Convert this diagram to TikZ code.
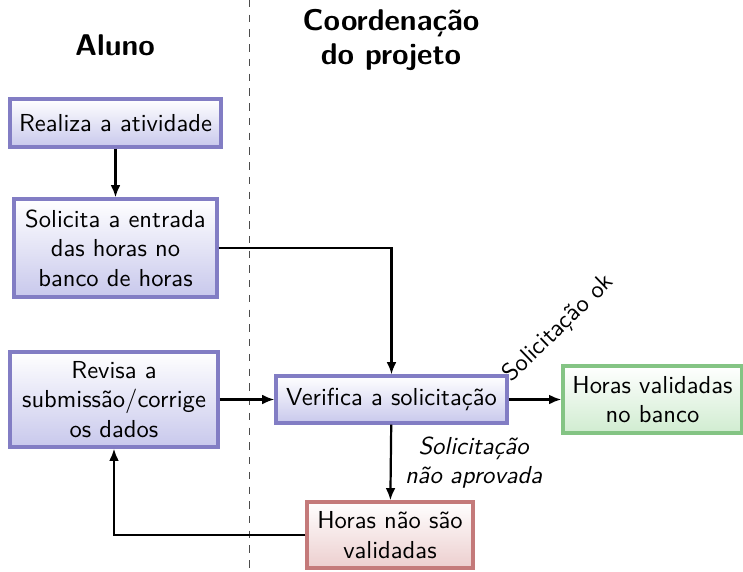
\documentclass[tikz,border=0pt]{standalone}
\usepackage{tikz}
\usetikzlibrary{arrows.meta}
\definecolor{bordaazul}{RGB}{130,125,196}
\definecolor{fundoazul}{RGB}{200,200,236}
\definecolor{bordaverde}{RGB}{132,196,132}
\definecolor{fundoverde}{RGB}{208,236,208}
\definecolor{bordavermelha}{RGB}{196,122,122}
\definecolor{fundovermelho}{RGB}{236,206,206}

\begin{document}
\begin{tikzpicture}[x=0.407pt,y=0.407pt,font=\sffamily]
\tikzstyle{caixa}=[draw=bordaazul, line width=1.3pt, top color=white, bottom color=fundoazul, align=center, inner sep=2pt]
\tikzstyle{caixaok}=[caixa, draw=bordaverde, bottom color=fundoverde]
\tikzstyle{caixanao}=[caixa, draw=bordavermelha, bottom color=fundovermelho]
\tikzstyle{seta}=[line width=0.9pt, -{Latex[length=5pt,width=4pt]}]
\tikzstyle{titulo}=[font=\sffamily\bfseries\fontsize{12.2}{14}\selectfont, align=center]
\useasboundingbox (0,0) rectangle (743,-571);
% colunas
\coordinate (topo) at (249,0);
\coordinate (base) at (249,-571);
\draw [dashed, gray!60!black] (topo) -- (base);
\node [titulo] (aluno) at (115,-45) {Aluno};
\node [titulo] (coord) at (391,-40) {Coordenação\\do projeto};
% caixas
\node [caixa, minimum width=85.9pt, minimum height=19.5pt] (realiza) at (115.5,-123) {Realiza a atividade};
\node [caixa, minimum width=82.6pt, minimum height=39.9pt] (solicita) at (115.5,-248) {Solicita a entrada\\das horas no\\banco de horas};
\node [caixa, minimum width=84.7pt, minimum height=38.7pt] (revisa) at (114,-399.5) {Revisa a\\submissão/corrige\\os dados};
\node [caixa, minimum width=94pt, minimum height=19.1pt] (verifica) at (391.5,-399.5) {Verifica a solicitação};
\node [caixaok, minimum width=72.9pt, minimum height=27.3pt] (validadas) at (652.5,-399.5) {Horas validadas\\no banco};
\node [caixanao, minimum width=67.6pt, minimum height=26.9pt] (naovalidadas) at (390,-535) {Horas não são\\validadas};
% ligacoes
\draw [seta] (realiza) -- (solicita);
\draw [seta] (solicita.east) -| (verifica.north);
\draw [seta] (revisa) -- (verifica);
\draw [seta] (verifica) -- (validadas);
\node [rotate=44, anchor=base west, inner sep=0pt] (rotulook) at ([shift={(1.2pt,6.7pt)}]verifica.east) {Solicitação ok};
\draw [seta] (verifica) -- node [right, align=center, font=\sffamily\itshape, xshift=2pt] (rotulonao) {Solicitação\\não aprovada} (naovalidadas);
\draw [seta] (naovalidadas.west) -| (revisa.south);
\end{tikzpicture}
\end{document}
